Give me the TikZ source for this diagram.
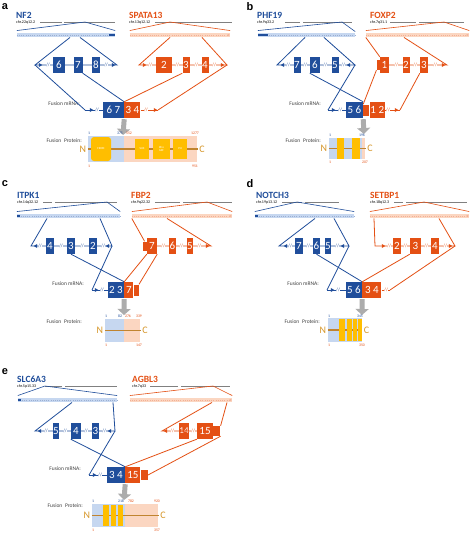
\documentclass[tikz,border=0pt]{standalone}
\usepackage{fontspec}
\setmainfont{Carlito}
\newfontfamily\panelfont{Liberation Sans}
\usetikzlibrary{positioning}
\usetikzlibrary{calc}
\usetikzlibrary{shapes.geometric}
\usetikzlibrary{arrows.meta}
\definecolor{bD}{RGB}{32,78,155}
\definecolor{oD}{RGB}{228,80,20}
\definecolor{bL}{RGB}{198,215,240}
\definecolor{oL}{RGB}{251,214,193}
\definecolor{yel}{RGB}{255,190,0}
\definecolor{brn}{RGB}{192,132,48}
\definecolor{ncol}{RGB}{214,150,40}
\tikzstyle{bexon} = [fill=bD, text=white, inner sep=0pt, minimum height=16pt, font=\fontsize{11}{11}\selectfont]
\tikzstyle{oexon} = [bexon, fill=oD]
\tikzstyle{utr} = [inner sep=0pt, minimum height=10pt]
\tikzstyle{gname} = [anchor=west, inner sep=0pt, font=\fontsize{9.5}{9.5}\selectfont\bfseries]
\tikzstyle{chrom} = [anchor=west, inner sep=0pt, font=\fontsize{4}{4}\selectfont]
\tikzstyle{plabel} = [inner sep=0pt, font=\panelfont\fontsize{11}{11}\selectfont\bfseries]
\tikzstyle{note} = [anchor=east, inner sep=0pt, text=darkgray, font=\fontsize{5.5}{5.5}\selectfont]
\tikzstyle{num} = [inner sep=0pt, font=\fontsize{3.8}{3.8}\selectfont]
\tikzstyle{tipR} = [isosceles triangle, isosceles triangle apex angle=60, fill, inner sep=0pt, minimum height=3.5pt]
\tikzstyle{tipL} = [tipR, shape border rotate=180]
\tikzstyle{brk} = [fill=white, inner sep=0.2pt, font=\fontsize{5}{5}\selectfont]
\tikzstyle{bline} = [draw=bD, line width=0.8pt]
\tikzstyle{oline} = [draw=oD, line width=0.8pt]
\tikzstyle{chrline} = [draw=gray, line width=0.7pt]
\tikzstyle{bbar} = [fill=bL, minimum height=4.5pt, inner sep=0pt]
\tikzstyle{obar} = [fill=oL, minimum height=4.5pt, inner sep=0pt]
\tikzstyle{bdash} = [bD!45, line width=0.35pt, dash pattern=on 0.6pt off 1.6pt, -{Latex[length=2.5pt]}]
\tikzstyle{odash} = [oD!45, line width=0.35pt, dash pattern=on 0.6pt off 1.6pt, -{Latex[length=2.5pt]}]
\tikzstyle{bprot} = [fill=bL, inner sep=0pt]
\tikzstyle{oprot} = [fill=oL, inner sep=0pt]
\tikzstyle{dom} = [fill=yel, text=white, inner sep=0pt, align=center, font=\fontsize{3}{3}\selectfont]
\tikzstyle{chain} = [draw=brn, line width=1.2pt]
\tikzstyle{NC} = [inner sep=0pt, text=ncol, font=\fontsize{10}{10}\selectfont]
\tikzstyle{fuseArrow} = [draw=gray!65, line width=5pt, -{Triangle[length=6pt, width=13pt]}]

\begin{document}
\begin{tikzpicture}[x=1pt,y=-1pt]
\fill[white] (0,0) rectangle (474,533);
\useasboundingbox (0,0) rectangle (474,533);

%%% a: NF2 - SPATA13
\node[plabel] (la) at (5,7) {a};
\node[gname, text=bD] (nf2) at (16,15) {NF2};
\node[chrom] (nf2c) at (16,22) {chr.22q12.2};
\node[gname, text=oD] (spa) at (129,15) {SPATA13};
\node[chrom] (spac) at (129,22) {chr.13q12.12};
\draw[chrline] (40,22) -- (62,22) (64,22) -- (115,22);
\draw[chrline] (155,22) -- (232,22);
\coordinate (aZb) at (85,22);
\coordinate (aZo) at (170,22);
\node[bbar, minimum width=98pt] (aGb) at (66,35) {};
\node[obar, minimum width=100pt] (aGo) at (180,35) {};
\draw[bdash] (aGb.west) -- (aGb.east);
\draw[odash] (aGo.west) -- (aGo.east);
\draw[bD, line width=2pt] ([xshift=-6pt]aGb.east) -- (aGb.east);
\draw[bD, line width=0.6pt] ([yshift=2pt]aGb.north west) -- (aZb) -- ([yshift=2pt]aGb.north east);
\draw[oD, line width=0.6pt] ([yshift=2pt]aGo.north west) -- (aZo) -- ([yshift=2pt]aGo.north east);

\coordinate (aL) at (35,65);
\coordinate (aR) at (117,65);
\coordinate (aLo) at (139,65);
\coordinate (aRo) at (227,65);
\draw[bline] ([xshift=4pt]aGb.south) -- (aL) -- (aR) -- ([xshift=14pt]aGb.south);
\draw[oline] ([xshift=-10pt]aGo.south) -- (aLo) -- (aRo) -- ([xshift=22pt]aGo.south);
\node[tipR, bD] (aT1) at (40,65) {}; \node[brk, text=bD] (aK1) at (48,65) {//};
\node[brk, text=bD] (aK2) at (106,65) {//}; \node[tipR, bD] (aT2) at (113,65) {};
\node[bexon, minimum width=12pt] (a6) at (59,65) {6};
\node[bexon, minimum width=9pt] (a7) at (78,65) {7};
\node[bexon, minimum width=8pt] (a8) at (96,65) {8};
\node[tipR, oD] (aT3) at (144,65) {}; \node[brk, text=oD] (aK3) at (150,65) {//};
\node[brk, text=oD] (aK4) at (177,65) {//}; \node[brk, text=oD] (aK5) at (196,65) {//};
\node[brk, text=oD] (aK6) at (214,65) {//}; \node[tipR, oD] (aT4) at (222,65) {};
\node[oexon, minimum width=16pt] (ao2) at (164,65) {2};
\node[oexon, minimum width=7pt] (ao3) at (186,65) {3};
\node[oexon, minimum width=7pt] (ao4) at (205,65) {4};

\node[note] (aMl) at (80,104) {Fusion mRNA:};
\coordinate (aMs) at (85,110);
\coordinate (aMe) at (158,110);
\node[bexon, minimum width=21pt] (aMb) at (113.5,110) {6 7};
\node[oexon, minimum width=16pt, right=0pt of aMb] (aMo) {3 4};
\draw[bline] (aMs) -- (aMb);
\draw[oline] (aMo) -- (aMe);
\node[tipR, bD] (aT5) at (91,110) {}; \node[brk, text=bD] (aK7) at (97,110) {//};
\node[brk, text=oD] (aK8) at (146,110) {//}; \node[tipR, oD] (aT6) at (155,110) {};
\draw[bline] (aL) -- (aMs);
\draw[bline] (a7.south east) -- (aMb.north east);
\draw[oline] (ao3.south west) -- (aMo.north west);
\draw[oline] (aRo) -- (aMe);
\coordinate (aP) at (123,135);
\draw[fuseArrow] ([yshift=-1pt]aMb.south east) -- (aP);

\node[note] (aPl) at (82,141) {Fusion\enspace Protein:};
\node[bprot, minimum width=36pt, minimum height=26pt] (aPb) at (106,149) {};
\node[oprot, minimum width=73pt, minimum height=26pt, right=0pt of aPb] (aPo) {};
\draw[chain] (aPb.west) -- (aPo.east);
\node[dom, rounded corners=3pt, minimum width=20pt, minimum height=24pt] (aD1) at (101,149) {FERM};
\node[dom, minimum width=14pt, minimum height=20pt] (aD2) at (142,149) {SH3};
\node[dom, minimum width=17pt, minimum height=20pt] (aD3) at (161.5,149) {Rho\\GEF};
\node[dom, minimum width=14pt, minimum height=20pt] (aD4) at (180,149) {PH};
\node[NC, left=1.5pt of aPb] (aN) {N};
\node[NC, right=1.5pt of aPo] (aC) {C};
\node[num, text=bD] (an1) at (89,133) {1};
\node[num, text=bD] (an2) at (120,133) {375};
\node[num, text=oD] (an3) at (129,133) {552};
\node[num, text=oD] (an4) at (195,133) {1277};
\node[num, text=oD] (an5) at (89,166) {1};
\node[num, text=oD] (an6) at (195,166) {951};

%%% b: PHF19 - FOXP2
\node[plabel] (lb) at (250,7) {b};
\node[gname, text=bD] (phf) at (257,15) {PHF19};
\node[chrom] (phfc) at (257,22) {chr.9q33.2};
\node[gname, text=oD] (fox) at (370,15) {FOXP2};
\node[chrom] (foxc) at (370,22) {chr.7q31.1};
\draw[chrline] (285,22) -- (300,22) (303,22) -- (352,22);
\draw[chrline] (390,22) -- (416,22) (419,22) -- (464,22);
\coordinate (bZb) at (342,22);
\coordinate (bZo) at (444,22);
\node[bbar, minimum width=97pt] (bGb) at (306.5,35) {};
\node[obar, minimum width=103pt] (bGo) at (417.5,35) {};
\draw[bdash] (bGb.east) -- (bGb.west);
\draw[odash] (bGo.west) -- (bGo.east);
\draw[bD, line width=2pt] (bGb.west) -- ([xshift=10pt]bGb.west);
\draw[bD, line width=0.6pt] ([yshift=2pt]bGb.north west) -- (bZb) -- ([yshift=1pt]bGb.north east);
\draw[oD, line width=0.6pt] ([yshift=2pt]bGo.north west) -- (bZo) -- ([yshift=2pt]bGo.north east);

\coordinate (bL) at (277,65);
\coordinate (bR) at (355,65);
\coordinate (bRo) at (447,65);
\draw[bline] ([xshift=-1.5pt]bGb.south) -- (bL) -- (bR) -- ([xshift=17.5pt]bGb.south);
\node[tipL, bD] (bT1) at (283,65) {}; \node[brk, text=bD] (bK1) at (288,65) {//};
\node[brk, text=bD] (bK2) at (305,65) {//}; \node[brk, text=bD] (bK3) at (325,65) {//};
\node[brk, text=bD] (bK4) at (343,65) {//}; \node[tipL, bD] (bT2) at (349,65) {};
\node[bexon, minimum width=7pt] (b7) at (297,65) {7};
\node[bexon, minimum width=10pt] (b6) at (315,65) {6};
\node[bexon, minimum width=7pt] (b5) at (335,65) {5};
\node[oexon, minimum width=9pt] (bo1) at (384.5,65) {1};
\node[oexon, utr, minimum width=3pt, left=0pt of bo1] (bo1u) {};
\draw[oline] (bo1u) -- (bRo) -- ([xshift=-13.5pt]bGo.south);
\draw[oline] (bGo.south west) -- (bo1.north west);
\node[brk, text=oD] (bK5) at (396,65) {//}; \node[brk, text=oD] (bK6) at (415,65) {//};
\node[brk, text=oD] (bK7) at (435,65) {//}; \node[tipR, oD] (bT3) at (443,65) {};
\node[oexon, minimum width=7pt] (bo2) at (406,65) {2};
\node[oexon, minimum width=8pt] (bo3) at (424,65) {3};

\node[note] (bMl) at (321,104) {Fusion mRNA:};
\coordinate (bMs) at (328,110);
\coordinate (bMe) at (400,110);
\node[bexon, minimum width=17pt] (bMb) at (354.5,110) {5 6};
\node[oexon, utr, minimum width=6pt, minimum height=11pt, right=0pt of bMb] (bMu) {};
\node[oexon, minimum width=15pt, right=0pt of bMu] (bMo) {1 2};
\draw[bline] (bMs) -- (bMb);
\draw[oline] (bMo) -- (bMe);
\node[tipR, bD] (bT4) at (333,110) {}; \node[brk, text=bD] (bK8) at (340,110) {//};
\node[brk, text=oD] (bK9) at (388,110) {//}; \node[tipR, oD] (bT5) at (396,110) {};
\draw[bline] (bR) -- (bMs);
\draw[bline] (b6.south west) -- (bMb.north east);
\draw[oline] (bo1u.south west) -- (bMu.north west);
\draw[oline] (bo3.south west) -- (bMe);
\coordinate (bP) at (364,134);
\draw[fuseArrow] ([yshift=-1pt]bMb.south east) -- (bP);

\node[note] (bPl) at (321,141) {Fusion\enspace Protein:};
\node[bprot, minimum width=33pt, minimum height=21pt] (bPb) at (345.5,148.5) {};
\node[oprot, minimum width=3pt, minimum height=21pt, right=0pt of bPb] (bPo) {};
\draw[chain] (bPb.west) -- (bPo.east);
\node[dom, minimum width=7pt, minimum height=21pt] (bD1) at (340.5,148.5) {};
\node[dom, minimum width=8pt, minimum height=21pt] (bD2) at (356,148.5) {};
\node[NC, left=1.5pt of bPb] (bN) {N};
\node[NC, right=1.5pt of bPo] (bC) {C};
\node[num, text=bD] (bn1) at (330,135) {1};
\node[num, text=bD] (bn2) at (362,135) {196};
\node[num, text=oD] (bn3) at (330,162) {1};
\node[num, text=oD] (bn4) at (365,162) {207};

%%% c: ITPK1 - FBP2
\node[plabel] (lc) at (5,184) {c};
\node[gname, text=bD] (itp) at (17,195) {ITPK1};
\node[chrom] (itpc) at (17,202) {chr.14q32.12};
\node[gname, text=oD] (fbp) at (131,195) {FBP2};
\node[chrom] (fbpc) at (131,202) {chr.9q22.32};
\draw[chrline] (43,202) -- (52,202) (55,202) -- (117,202);
\draw[chrline] (155,202) -- (180,202) (183,202) -- (232,202);
\coordinate (cZb) at (107,202);
\coordinate (cZo) at (207,202);
\node[bbar, minimum width=103pt] (cGb) at (68.5,216) {};
\node[obar, minimum width=100pt] (cGo) at (182,216) {};
\draw[bdash] (cGb.east) -- (cGb.west);
\draw[odash] (cGo.west) -- (cGo.east);
\draw[bD, line width=2pt] (cGb.west) -- ([xshift=3pt]cGb.west);
\draw[bD, line width=0.6pt] ([yshift=2pt]cGb.north west) -- (cZb) -- ([yshift=2pt]cGb.north east);
\draw[oD, line width=0.6pt] ([yshift=2pt]cGo.north west) -- (cZo) -- ([yshift=2pt]cGo.north east);

\coordinate (cL) at (31,246);
\coordinate (cR) at (112,246);
\coordinate (cRo) at (211,246);
\draw[bline] ([xshift=-21.5pt]cGb.south) -- (cL) -- (cR) -- ([xshift=31.5pt]cGb.south);
\node[tipL, bD] (cT1) at (36,246) {}; \node[brk, text=bD] (cK1) at (40,246) {//};
\node[brk, text=bD] (cK2) at (61,246) {//}; \node[brk, text=bD] (cK3) at (82,246) {//};
\node[brk, text=bD] (cK4) at (103,246) {//}; \node[tipL, bD] (cT2) at (108,246) {};
\node[bexon, minimum width=8pt] (c4) at (50,246) {4};
\node[bexon, minimum width=8pt] (c3) at (71,246) {3};
\node[bexon, minimum width=8pt] (c2) at (93,246) {2};
\node[oexon, minimum width=10pt] (co7) at (152,246) {7};
\node[oexon, utr, minimum width=4pt, minimum height=9pt, left=0pt of co7] (co7u) {};
\draw[oline] (co7u) -- (cRo) -- ([xshift=-15pt]cGo.south);
\draw[oline] (cGo.south west) -- (co7u.north);
\node[brk, text=oD] (cK5) at (163,246) {//}; \node[brk, text=oD] (cK6) at (181,246) {//};
\node[brk, text=oD] (cK7) at (199,246) {//}; \node[tipR, oD] (cT3) at (207,246) {};
\node[oexon, minimum width=7pt] (co6) at (172.5,246) {6};
\node[oexon, minimum width=6pt] (co5) at (190,246) {5};

\node[note] (cMl) at (84,284) {Fusion mRNA:};
\coordinate (cMs) at (92,290);
\node[bexon, minimum width=16pt] (cMb) at (116,290) {2 3};
\node[oexon, minimum width=9pt, right=0pt of cMb] (cMo) {7};
\node[oexon, utr, minimum width=5pt, minimum height=11pt, right=0pt of cMo] (cMu) {};
\draw[bline] (cMs) -- (cMb);
\node[tipR, bD] (cT4) at (96,290) {}; \node[brk, text=bD] (cK8) at (102,290) {//};
\draw[bline] (cR) -- (cMs);
\draw[bline] (c3.south) -- (cMb.north east);
\draw[oline] (co7.south west) -- (cMo.north west);
\draw[oline] (co7.south east) -- (cMu.north east);
\coordinate (cP) at (124,315);
\draw[fuseArrow] ([yshift=-1pt]cMb.south east) -- (cP);

\node[note] (cPl) at (82,322) {Fusion\enspace Protein:};
\node[bprot, minimum width=19pt, minimum height=23pt] (cPb) at (114.5,330.5) {};
\node[oprot, minimum width=16pt, minimum height=23pt, right=0pt of cPb] (cPo) {};
\draw[chain] (cPb.west) -- (cPo.east);
\node[NC, left=1.5pt of cPb] (cN) {N};
\node[NC, right=1.5pt of cPo] (cC) {C};
\node[num, text=bD] (cn1) at (106,316) {1};
\node[num, text=bD] (cn2) at (120,316) {82};
\node[num, text=oD] (cn3) at (128,316) {276};
\node[num, text=oD] (cn4) at (139,316) {339};
\node[num, text=oD] (cn5) at (106,345) {1};
\node[num, text=oD] (cn6) at (139,345) {147};

%%% d: NOTCH3 - SETBP1
\node[plabel] (ld) at (250,184) {d};
\node[gname, text=bD] (not) at (256,195) {NOTCH3};
\node[chrom] (notc) at (256,202) {chr.19p13.12};
\node[gname, text=oD] (set) at (370,195) {SETBP1};
\node[chrom] (setc) at (370,202) {chr.18q12.3};
\draw[chrline] (282,202) -- (302,202) (305,202) -- (339,202);
\draw[chrline] (394,202) -- (403,202) (406,202) -- (467,202);
\coordinate (dZb) at (297,202);
\coordinate (dZo) at (424,202);
\node[bbar, minimum width=99pt] (dGb) at (304.5,216) {};
\node[obar, minimum width=99pt] (dGo) at (419.5,216) {};
\draw[bdash] (dGb.east) -- (dGb.west);
\draw[odash] (dGo.west) -- (dGo.east);
\draw[bD, line width=2pt] (dGb.west) -- ([xshift=3pt]dGb.west);
\draw[bD, line width=0.6pt] ([yshift=2pt]dGb.north west) -- (dZb) -- ([yshift=2pt]dGb.north east);
\draw[oD, line width=0.6pt] ([yshift=2pt]dGo.north west) -- (dZo) -- ([yshift=2pt]dGo.north east);

\coordinate (dL) at (279,246);
\coordinate (dR) at (349,246);
\coordinate (dLo) at (375,246);
\coordinate (dRo) at (455,246);
\draw[bline] ([xshift=10.5pt]dGb.south) -- (dL) -- (dR) -- ([xshift=29.5pt]dGb.south);
\draw[oline] ([xshift=-45.5pt]dGo.south) -- (dLo) -- (dRo) -- ([xshift=19.5pt]dGo.south);
\node[tipL, bD] (dT1) at (286,246) {}; \node[brk, text=bD] (dK1) at (290,246) {//};
\node[brk, text=bD] (dK2) at (308,246) {//}; \node[brk, text=bD] (dK3) at (337,246) {//};
\node[tipL, bD] (dT2) at (343,246) {};
\node[bexon, minimum width=8pt] (d7) at (299,246) {7};
\node[bexon, minimum width=7pt] (d6) at (316.5,246) {6};
\node[bexon, minimum width=6pt] (d5) at (328,246) {5};
\node[tipR, oD] (dT3) at (383,246) {}; \node[brk, text=oD] (dK4) at (389,246) {//};
\node[brk, text=oD] (dK5) at (405,246) {//}; \node[brk, text=oD] (dK6) at (426,246) {//};
\node[brk, text=oD] (dK7) at (445,246) {//}; \node[tipR, oD] (dT4) at (450,246) {};
\node[oexon, minimum width=8pt] (do2) at (397,246) {2};
\node[oexon, minimum width=11pt] (do3) at (415.5,246) {3};
\node[oexon, minimum width=8pt] (do4) at (435,246) {4};

\node[note] (dMl) at (319,284) {Fusion mRNA:};
\coordinate (dMs) at (327,290);
\coordinate (dMe) at (390,290);
\node[bexon, minimum width=16pt] (dMb) at (354,290) {5 6};
\node[oexon, minimum width=19pt, right=0pt of dMb] (dMo) {3 4};
\draw[bline] (dMs) -- (dMb);
\draw[oline] (dMo) -- (dMe);
\node[tipR, bD] (dT5) at (332,290) {}; \node[brk, text=bD] (dK8) at (338,290) {//};
\node[brk, text=oD] (dK9) at (386,290) {//};
\draw[bline] (dR) -- (dMs);
\draw[bline] (d6.south) -- (dMb.north east);
\draw[oline] (do3.south west) -- (dMo.north west);
\draw[oline] (dMe) -- (dRo);
\coordinate (dP) at (362,315);
\draw[fuseArrow] ([yshift=-1pt]dMb.south east) -- (dP);

\node[note] (dPl) at (320,322) {Fusion\enspace Protein:};
\node[bprot, minimum width=34pt, minimum height=24pt] (dPb) at (345,330) {};
\draw[chain] (dPb.west) -- (dPb.east);
\node[dom, minimum width=6pt, minimum height=22pt] (dD1) at (342,330) {};
\node[dom, minimum width=4.5pt, minimum height=22pt] (dD2) at (349.5,330) {};
\node[dom, minimum width=4pt, minimum height=22pt] (dD3) at (354.5,330) {};
\node[dom, minimum width=4pt, minimum height=22pt] (dD4) at (359.5,330) {};
\node[NC, left=1.5pt of dPb] (dN) {N};
\node[NC, right=1.5pt of dPb] (dC) {C};
\node[num, text=bD] (dn1) at (329,316) {1};
\node[num, text=bD] (dn2) at (360,316) {345};
\node[num, text=oD] (dn3) at (329,345) {1};
\node[num, text=oD] (dn4) at (362,345) {350};

%%% e: SLC6A3 - AGBL3
\node[plabel] (le) at (5,372) {e};
\node[gname, text=bD] (slc) at (17,379) {SLC6A3};
\node[chrom] (slcc) at (17,386) {chr.5p15.33};
\node[gname, text=oD] (agb) at (132,379) {AGBL3};
\node[chrom] (agbc) at (132,386) {chr.7q33};
\draw[chrline] (45,386) -- (62,386) (65,386) -- (117,386);
\draw[chrline] (150,386) -- (178,386) (181,386) -- (230,386);
\coordinate (eZb) at (45,386);
\coordinate (eZo) at (213,386);
\node[bbar, minimum width=99pt] (eGb) at (67.5,400) {};
\node[obar, minimum width=102pt] (eGo) at (181,400) {};
\draw[bdash] (eGb.east) -- (eGb.west);
\draw[odash] (eGo.west) -- (eGo.east);
\draw[bD, line width=2pt] (eGb.west) -- ([xshift=3pt]eGb.west);
\draw[bD, line width=0.6pt] ([yshift=2pt]eGb.north west) -- (eZb) -- ([yshift=2pt]eGb.north east);
\draw[oD, line width=0.6pt] ([yshift=2pt]eGo.north west) -- (eZo) -- ([yshift=2pt]eGo.north east);

\coordinate (eL) at (35,431);
\coordinate (eR) at (115,431);
\coordinate (eLo) at (162,431);
\draw[bline] ([xshift=4.5pt]eGb.south) -- (eL) -- (eR) -- ([xshift=45.5pt]eGb.south);
\node[tipL, bD] (eT1) at (40,431) {}; \node[brk, text=bD] (eK1) at (46,431) {//};
\node[brk, text=bD] (eK2) at (65,431) {//}; \node[brk, text=bD] (eK3) at (86,431) {//};
\node[brk, text=bD] (eK4) at (104,431) {//}; \node[tipL, bD] (eT2) at (110,431) {};
\node[bexon, minimum width=6pt] (e5) at (56,431) {5};
\node[bexon, minimum width=10pt] (e4) at (76,431) {4};
\node[bexon, minimum width=7pt] (e3) at (95.5,431) {3};
\node[oexon, minimum width=16pt] (eo15) at (205,431) {15};
\node[oexon, utr, minimum width=7pt, right=0pt of eo15] (eo15u) {};
\node[oexon, minimum width=8pt, font=\fontsize{9}{9}\selectfont] (eo14) at (184,431) {14};
\draw[oline] ([xshift=31pt]eGo.south) -- (eLo) -- (eo15);
\draw[oline] ([xshift=46pt]eGo.south) -- (eo15u.north east);
\node[tipL, oD] (eT3) at (166,431) {}; \node[brk, text=oD] (eK5) at (172,431) {//};
\node[brk, text=oD] (eK6) at (193,431) {//};

\node[note] (eMl) at (81,469) {Fusion mRNA:};
\coordinate (eMs) at (89,475);
\node[bexon, minimum width=18pt] (eMb) at (116,475) {3 4};
\node[oexon, minimum width=15pt, right=0pt of eMb] (eMo) {15};
\node[oexon, utr, minimum width=7pt, right=0pt of eMo] (eMu) {};
\draw[bline] (eMs) -- (eMb);
\node[tipR, bD] (eT4) at (94,475) {}; \node[brk, text=bD] (eK7) at (100,475) {//};
\draw[bline] (eR) -- (eMs);
\draw[bline] (e4.south west) -- (eMb.north east);
\draw[oline] (eo15.south west) -- (eMo.north west);
\draw[oline] (eo15u.south east) -- (eMu.east);
\coordinate (eP) at (124,500);
\draw[fuseArrow] ([yshift=-1pt]eMb.south east) -- (eP);

\node[note] (ePl) at (83,506) {Fusion\enspace Protein:};
\node[bprot, minimum width=33pt, minimum height=23pt] (ePb) at (108.5,515.5) {};
\node[oprot, minimum width=33pt, minimum height=23pt, right=0pt of ePb] (ePo) {};
\draw[chain] (ePb.west) -- (ePo.east);
\node[dom, minimum width=6pt, minimum height=21pt] (eD1) at (106,515.5) {};
\node[dom, minimum width=5pt, minimum height=21pt] (eD2) at (113.5,515.5) {};
\node[dom, minimum width=5pt, minimum height=21pt] (eD3) at (120.5,515.5) {};
\node[NC, left=1.5pt of ePb] (eN) {N};
\node[NC, right=1.5pt of ePo] (eC) {C};
\node[num, text=bD] (en1) at (93,501) {1};
\node[num, text=bD] (en2) at (121,501) {218};
\node[num, text=oD] (en3) at (131,501) {782};
\node[num, text=oD] (en4) at (157,501) {920};
\node[num, text=oD] (en5) at (93,530) {1};
\node[num, text=oD] (en6) at (157,530) {357};
\end{tikzpicture}
\end{document}
